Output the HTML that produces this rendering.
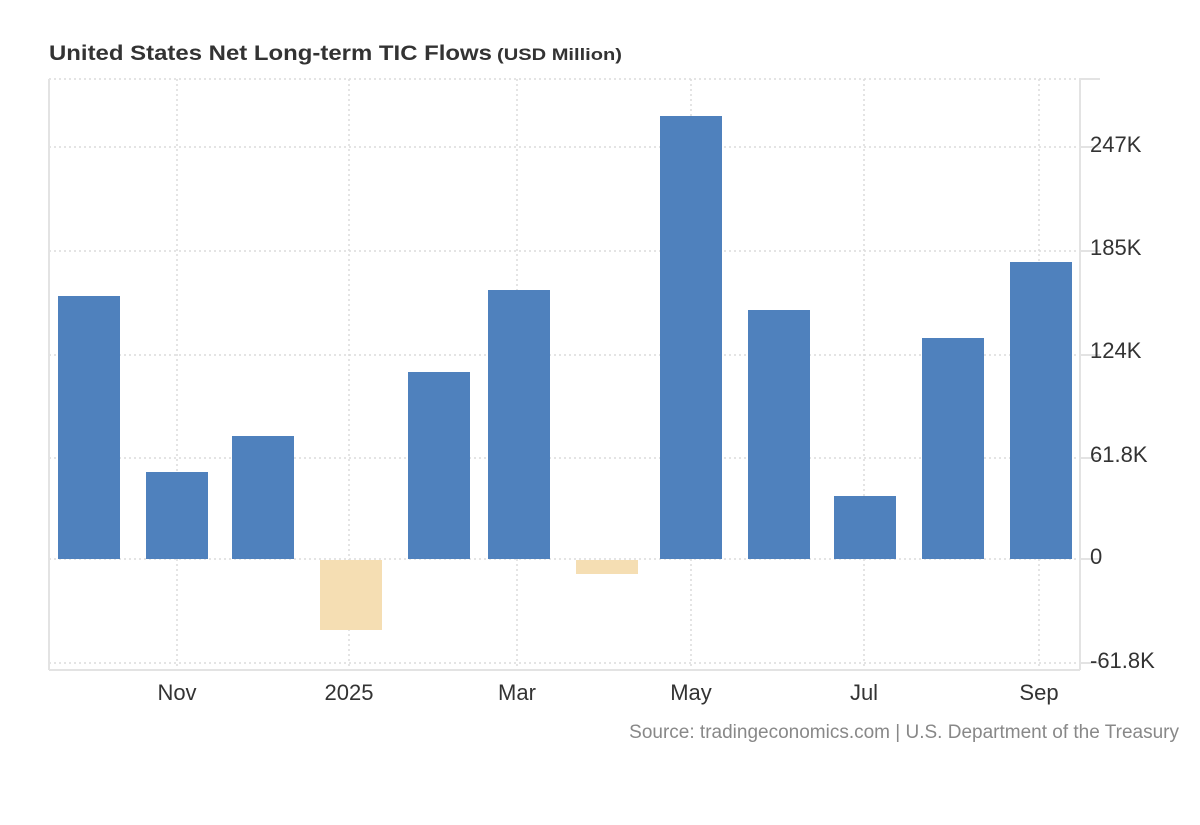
<!DOCTYPE html>
<html><head><style>
body{margin:0;background:#fff;}
svg text{font-family:"Liberation Sans",Arial,sans-serif;}
</style></head><body>
<svg width="1200" height="820" xmlns="http://www.w3.org/2000/svg">
<rect width="1200" height="820" fill="#fff"/>
<text x="49" y="60" font-size="21" font-weight="bold" fill="#333" textLength="443" lengthAdjust="spacingAndGlyphs">United States Net Long-term TIC Flows</text>
<text x="497" y="60" font-size="17" font-weight="bold" fill="#333" textLength="125" lengthAdjust="spacingAndGlyphs">(USD Million)</text>
<g stroke="#dcdcdc" stroke-width="1.5" stroke-dasharray="2,3">
<line x1="49" y1="79" x2="1080" y2="79"/>
<line x1="49" y1="147" x2="1080" y2="147"/>
<line x1="49" y1="251" x2="1080" y2="251"/>
<line x1="49" y1="355" x2="1080" y2="355"/>
<line x1="49" y1="458" x2="1080" y2="458"/>
<line x1="49" y1="559" x2="1080" y2="559"/>
<line x1="49" y1="663" x2="1080" y2="663"/>
<line x1="177" y1="79" x2="177" y2="670"/>
<line x1="349" y1="79" x2="349" y2="670"/>
<line x1="517" y1="79" x2="517" y2="670"/>
<line x1="691" y1="79" x2="691" y2="670"/>
<line x1="864" y1="79" x2="864" y2="670"/>
<line x1="1039" y1="79" x2="1039" y2="670"/>
</g>
<g stroke="#e3e3e3" stroke-width="2">
<line x1="49" y1="79" x2="49" y2="670"/>
<line x1="1080" y1="79" x2="1080" y2="670"/>
<line x1="49" y1="670" x2="1080" y2="670"/>
<line x1="1080" y1="79" x2="1100" y2="79"/>
<line x1="1080" y1="147" x2="1100" y2="147"/>
<line x1="1080" y1="251" x2="1100" y2="251"/>
<line x1="1080" y1="355" x2="1100" y2="355"/>
<line x1="1080" y1="458" x2="1100" y2="458"/>
<line x1="1080" y1="559" x2="1100" y2="559"/>
<line x1="1080" y1="663" x2="1100" y2="663"/>
</g>
<g fill="#4f81bd">
<rect x="58" y="296" width="62" height="263"/>
<rect x="146" y="472" width="62" height="87"/>
<rect x="232" y="436" width="62" height="123"/>
<rect x="408" y="372" width="62" height="187"/>
<rect x="488" y="290" width="62" height="269"/>
<rect x="660" y="116" width="62" height="443"/>
<rect x="748" y="310" width="62" height="249"/>
<rect x="834" y="496" width="62" height="63"/>
<rect x="922" y="338" width="62" height="221"/>
<rect x="1010" y="262" width="62" height="297"/>
</g>
<g fill="#f5deb3">
<rect x="320" y="560" width="62" height="70"/>
<rect x="576" y="560" width="62" height="14"/>
</g>
<g font-size="22" fill="#333">
<text x="1090" y="152">247K</text>
<text x="1090" y="255">185K</text>
<text x="1090" y="358">124K</text>
<text x="1090" y="462">61.8K</text>
<text x="1090" y="564">0</text>
<text x="1090" y="668">-61.8K</text>
</g>
<g font-size="22" fill="#333" text-anchor="middle">
<text x="177" y="700">Nov</text>
<text x="349" y="700">2025</text>
<text x="517" y="700">Mar</text>
<text x="691" y="700">May</text>
<text x="864" y="700">Jul</text>
<text x="1039" y="700">Sep</text>
</g>
<text x="1179" y="738" font-size="19" fill="#888" text-anchor="end">Source: tradingeconomics.com | U.S. Department of the Treasury</text>
</svg>
</body></html>
